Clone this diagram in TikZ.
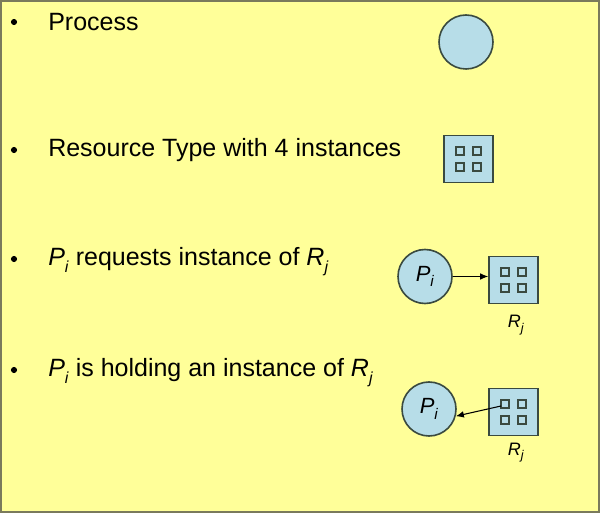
\documentclass[tikz,border=0pt]{standalone}
\usepackage{fontspec}
\setmainfont{Liberation Sans}
\usetikzlibrary{calc,arrows.meta}
\definecolor{bgyellow}{HTML}{FFFF99}
\definecolor{frame}{HTML}{7A7A5C}
\definecolor{shapefill}{HTML}{B7DDE8}
\definecolor{shapeline}{HTML}{3A4A40}
\newcommand{\myPi}{\textit{P}\raisebox{-0.5ex}{\fontsize{12}{12}\selectfont\textit{i}}}
\newcommand{\myRj}{\textit{R}\raisebox{-0.5ex}{\fontsize{12}{12}\selectfont\textit{j}}}
\newcommand{\myPsmall}{\textit{P}\raisebox{-0.5ex}{\fontsize{11.5}{11.5}\selectfont\textit{i}}}
\newcommand{\myRsmall}{\textit{R}\raisebox{-0.5ex}{\fontsize{9.5}{9.5}\selectfont\textit{j}}}
\tikzset{
  x=0.75pt, y=-0.75pt,
  txt/.style={anchor=base west, inner sep=0pt, font=\fontsize{18.75}{22}\selectfont},
  bul/.style={circle, fill=black, inner sep=0pt, minimum size=4.6pt},
  proc/.style={circle, draw=shapeline, line width=1.2pt, fill=shapefill, minimum size=40.5pt, inner sep=0pt, font=\fontsize{16.5}{18}\selectfont},
  res/.style={rectangle, draw=shapeline, line width=1.2pt, fill=shapefill, minimum width=36.75pt, minimum height=35.5pt, inner sep=0pt},
  inst/.style={rectangle, draw=shapeline, line width=1pt, minimum size=5.8pt, inner sep=0pt},
  lbl/.style={inner sep=0pt, font=\fontsize{13.5}{15}\selectfont},
  arr/.style={-{Latex[length=6pt,width=5pt]}, line width=0.8pt, black}
}
\newcommand{\instances}[1]{%
  \node[inst] at ($(#1.center)+(-8.5,-8)$) {};
  \node[inst] at ($(#1.center)+(8.5,-8)$) {};
  \node[inst] at ($(#1.center)+(-8.5,8)$) {};
  \node[inst] at ($(#1.center)+(8.5,8)$) {};
}
\begin{document}
\begin{tikzpicture}
\useasboundingbox (0,0) rectangle (600,513);
\fill[bgyellow] (0,0) rectangle (600,513);
\draw[frame, line width=1.5pt] (1,1) rectangle (599,512);

% bullets and texts
\node[bul] (b1) at (14,22) {};
\node[txt] (t1) at (48,31) {Process};
\node[bul] (b2) at (14,150) {};
\node[txt] (t2) at (48,157) {Resource Type with 4 instances};
\node[bul] (b3) at (14,259) {};
\node[txt] (t3) at (48,266) {\myPi{} requests instance of \myRj};
\node[bul] (b4) at (14,370) {};
\node[txt] (t4) at (48,377) {\myPi{} is holding an instance of \myRj};

% legend shapes
\node[proc] (p1) at (466,42) {};
\node[res] (r1) at (468.5,159) {};
\instances{r1}

% request
\node[proc] (p2) at (425,276.5) {\myPsmall};
\node[res] (r2) at (513.5,280) {};
\instances{r2}
\node[lbl, anchor=base] (l2) at (516,328) {\myRsmall};
\draw[arr] (p2.east) -- (p2.east -| r2.west);

% holding
\node[proc] (p3) at (429,409) {\myPsmall};
\node[res] (r3) at (513.5,412) {};
\instances{r3}
\node[lbl, anchor=base] (l3) at (516,455) {\myRsmall};
\coordinate (h) at (501,406);
\draw[arr] (h) -- (p3.-15);
\end{tikzpicture}
\end{document}
